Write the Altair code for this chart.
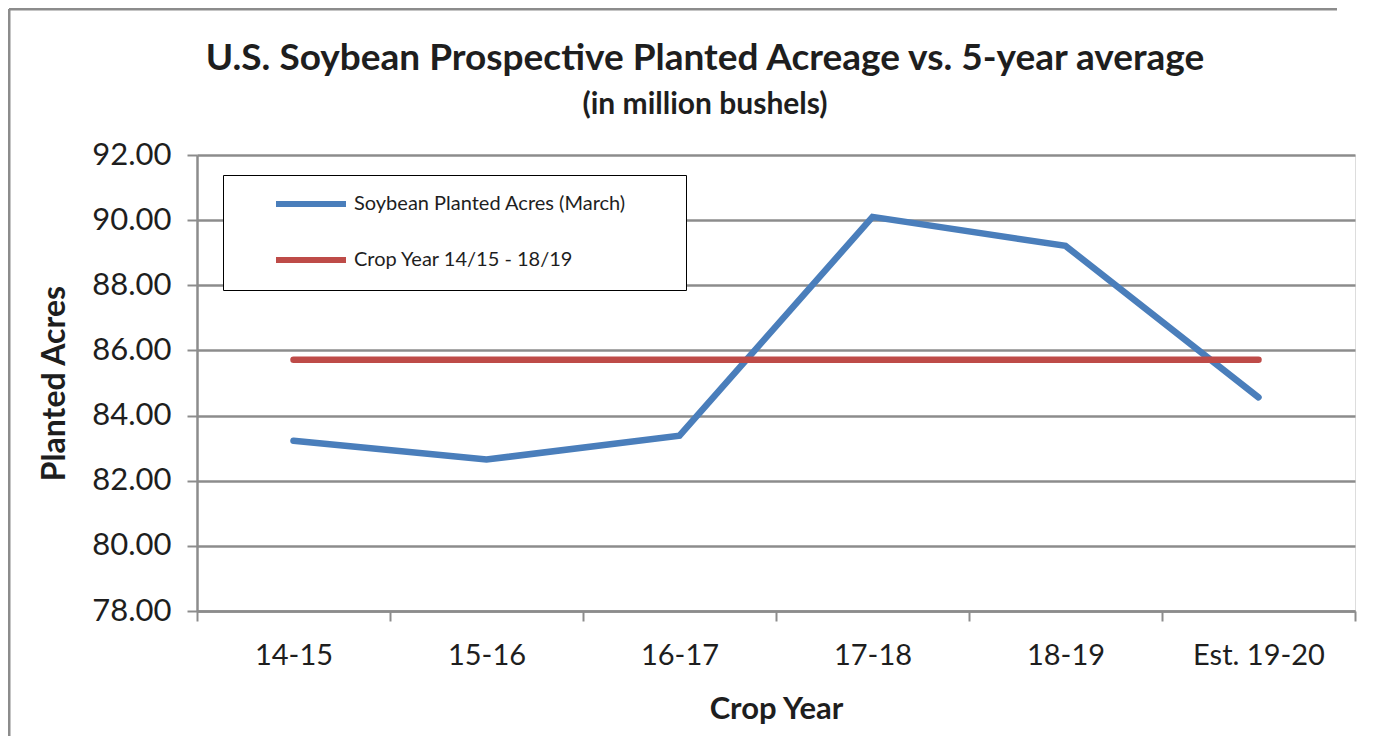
import altair as alt
import pandas as pd

crop_years = ["14-15", "15-16", "16-17", "17-18", "18-19", "Est. 19-20"]
planted_acres = [83.23, 82.65, 83.38, 90.10, 89.21, 84.56]
five_year_avg = [85.71, 85.71, 85.71, 85.71, 85.71, 85.71]
series_names = ["Soybean Planted Acres (March)", "Crop Year 14/15 - 18/19"]
series_colors = ["#4A7EBB", "#BE4B48"]
y_ticks = [78, 80, 82, 84, 86, 88, 90, 92]

rows = []
for yr, v in zip(crop_years, planted_acres):
    rows.append({"year": yr, "value": v, "series": series_names[0]})
for yr, v in zip(crop_years, five_year_avg):
    rows.append({"year": yr, "value": v, "series": series_names[1]})
df = pd.DataFrame(rows)

FONT = "Lato"
TXT = "#1e1e1e"
GRID = "#8c8c8c"

one = pd.DataFrame({"k": [0]})
frame_left = alt.Chart(one).mark_rule(
    color=GRID, strokeWidth=3, clip=False
).encode(x=alt.value(-188), y=alt.value(-146), y2=alt.value(590))
frame_top = alt.Chart(one).mark_rule(
    color=GRID, strokeWidth=3, clip=False
).encode(x=alt.value(-188), x2=alt.value(1140), y=alt.value(-146))

lines = alt.Chart(df).mark_line(
    strokeWidth=6.5, strokeCap="round", strokeJoin="miter", clip=False
).encode(
    x=alt.X("year:N", sort=crop_years,
            scale=alt.Scale(type="band", paddingInner=0, paddingOuter=0),
            axis=alt.Axis(title="Crop Year", tickBand="extent", grid=False,
                          labelAngle=0, labelFontSize=29, labelFont=FONT,
                          labelColor=TXT, labelPadding=20, tickSize=10,
                          tickColor=GRID, tickWidth=2, domainColor=GRID,
                          domainWidth=2.5, titleFontSize=31, titleFont=FONT,
                          titleFontWeight="bold", titleColor=TXT,
                          titlePadding=24)),
    y=alt.Y("value:Q",
            scale=alt.Scale(domain=[78, 92], nice=False, zero=False),
            axis=alt.Axis(title="Planted Acres", values=y_ticks, format=".2f",
                          grid=True, gridColor=GRID, gridWidth=2.5,
                          labelFontSize=31, labelFont=FONT, labelColor=TXT,
                          labelPadding=16, tickSize=10, tickColor=GRID,
                          tickWidth=2, domainColor=GRID, domainWidth=2.5,
                          titleFontSize=32, titleFont=FONT,
                          titleFontWeight="bold", titleColor=TXT,
                          titlePadding=20)),
    color=alt.Color("series:N",
                    scale=alt.Scale(domain=series_names, range=series_colors),
                    legend=alt.Legend(
                        title=None, orient="none", legendX=26, legendY=20,
                        strokeColor="black", fillColor="white", padding=20,
                        symbolType="stroke", symbolSize=4900,
                        symbolStrokeWidth=6, symbolOffset=30,
                        clipHeight=18, rowPadding=36, labelOffset=5,
                        labelFontSize=20, labelFont=FONT, labelColor=TXT,
                        labelExpr="datum.label + '\u2003\u2003\u2002\u200b'",
                        labelLimit=600)),
)

chart = alt.layer(frame_left, frame_top, lines).properties(
    width=1158, height=456,
    autosize=alt.AutoSizeParams(type="none"),
    padding={"left": 189, "top": 147, "right": 15, "bottom": 125},
    title=alt.Title(
        "U.S. Soybean Prospective Planted Acreage vs. 5-year average",
        subtitle="(in million bushels)",
        anchor="middle", frame="group", dx=-71, offset=-113,
        font=FONT, fontSize=37, fontWeight="bold", color=TXT,
        subtitleFont=FONT, subtitleFontSize=30, subtitleFontWeight="bold",
        subtitleColor=TXT, subtitlePadding=12,
    ),
).configure_view(stroke=None).configure(background="white")

chart.save("out.html", embed_options={"renderer": "svg", "actions": False})
